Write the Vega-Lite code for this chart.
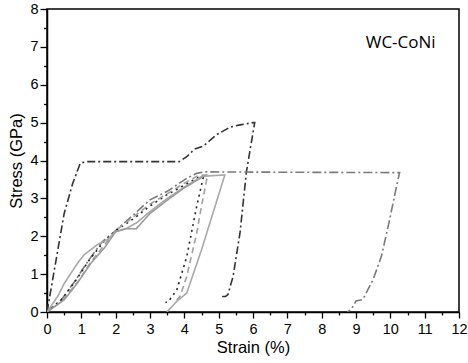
{
  "$schema": "https://vega.github.io/schema/vega-lite/v6.json",
  "autosize": "none",
  "width": 412,
  "height": 303,
  "padding": {"left": 47, "top": 9, "right": 9, "bottom": 51},
  "background": "white",
  "config": {"view": {"stroke": "black", "strokeWidth": 1.5}},
  "datasets": {
    "curves": [
      {"s": "A", "i": 0, "x": 0, "y": 0},
      {"s": "A", "i": 1, "x": 0.25, "y": 1.3},
      {"s": "A", "i": 2, "x": 0.5, "y": 2.6},
      {"s": "A", "i": 3, "x": 0.75, "y": 3.4},
      {"s": "A", "i": 4, "x": 0.97, "y": 3.93},
      {"s": "A", "i": 5, "x": 1.15, "y": 3.97},
      {"s": "A", "i": 6, "x": 2.5, "y": 3.97},
      {"s": "A", "i": 7, "x": 3.85, "y": 3.97},
      {"s": "A", "i": 8, "x": 4.07, "y": 4.1},
      {"s": "A", "i": 9, "x": 4.3, "y": 4.3},
      {"s": "A", "i": 10, "x": 4.55, "y": 4.38},
      {"s": "A", "i": 11, "x": 4.94, "y": 4.68},
      {"s": "A", "i": 12, "x": 5.33, "y": 4.88},
      {"s": "A", "i": 13, "x": 5.62, "y": 4.94},
      {"s": "A", "i": 14, "x": 6.0, "y": 5.0},
      {"s": "A", "i": 15, "x": 6.05, "y": 5.0},
      {"s": "A", "i": 16, "x": 5.81, "y": 3.71},
      {"s": "A", "i": 17, "x": 5.62, "y": 2.08},
      {"s": "A", "i": 18, "x": 5.42, "y": 0.94},
      {"s": "A", "i": 19, "x": 5.27, "y": 0.46},
      {"s": "A", "i": 20, "x": 5.2, "y": 0.41},
      {"s": "A", "i": 21, "x": 5.1, "y": 0.41},
      {"s": "B", "i": 0, "x": 0, "y": 0},
      {"s": "B", "i": 1, "x": 0.4, "y": 0.3},
      {"s": "B", "i": 2, "x": 0.8, "y": 0.8},
      {"s": "B", "i": 3, "x": 1.2, "y": 1.35},
      {"s": "B", "i": 4, "x": 1.6, "y": 1.85},
      {"s": "B", "i": 5, "x": 2.0, "y": 2.15},
      {"s": "B", "i": 6, "x": 2.5, "y": 2.55},
      {"s": "B", "i": 7, "x": 2.8, "y": 2.8},
      {"s": "B", "i": 8, "x": 3.0, "y": 2.96},
      {"s": "B", "i": 9, "x": 3.49, "y": 3.18},
      {"s": "B", "i": 10, "x": 4.07, "y": 3.53},
      {"s": "B", "i": 11, "x": 4.36, "y": 3.66},
      {"s": "B", "i": 12, "x": 4.6, "y": 3.7},
      {"s": "B", "i": 13, "x": 7.0, "y": 3.69},
      {"s": "B", "i": 14, "x": 10.27, "y": 3.68},
      {"s": "B", "i": 15, "x": 10.18, "y": 3.32},
      {"s": "B", "i": 16, "x": 9.98, "y": 2.44},
      {"s": "B", "i": 17, "x": 9.74, "y": 1.47},
      {"s": "B", "i": 18, "x": 9.5, "y": 0.86},
      {"s": "B", "i": 19, "x": 9.2, "y": 0.33},
      {"s": "B", "i": 20, "x": 9.0, "y": 0.29},
      {"s": "B", "i": 21, "x": 8.86, "y": 0.07},
      {"s": "B", "i": 22, "x": 8.75, "y": 0},
      {"s": "C", "i": 0, "x": 0, "y": 0},
      {"s": "C", "i": 1, "x": 0.45, "y": 0.35},
      {"s": "C", "i": 2, "x": 0.85, "y": 0.85},
      {"s": "C", "i": 3, "x": 1.25, "y": 1.4},
      {"s": "C", "i": 4, "x": 1.65, "y": 1.85},
      {"s": "C", "i": 5, "x": 2.0, "y": 2.15},
      {"s": "C", "i": 6, "x": 2.5, "y": 2.45},
      {"s": "C", "i": 7, "x": 3.0, "y": 2.8},
      {"s": "C", "i": 8, "x": 3.5, "y": 3.1},
      {"s": "C", "i": 9, "x": 4.0, "y": 3.35},
      {"s": "C", "i": 10, "x": 4.4, "y": 3.55},
      {"s": "C", "i": 11, "x": 4.55, "y": 3.55},
      {"s": "C", "i": 12, "x": 4.36, "y": 2.79},
      {"s": "C", "i": 13, "x": 4.07, "y": 1.46},
      {"s": "C", "i": 14, "x": 3.78, "y": 0.58},
      {"s": "C", "i": 15, "x": 3.54, "y": 0.28},
      {"s": "C", "i": 16, "x": 3.45, "y": 0.25},
      {"s": "D", "i": 0, "x": 0, "y": 0},
      {"s": "D", "i": 1, "x": 0.45, "y": 0.3},
      {"s": "D", "i": 2, "x": 0.9, "y": 0.8},
      {"s": "D", "i": 3, "x": 1.3, "y": 1.35},
      {"s": "D", "i": 4, "x": 1.7, "y": 1.8},
      {"s": "D", "i": 5, "x": 2.0, "y": 2.15},
      {"s": "D", "i": 6, "x": 2.5, "y": 2.5},
      {"s": "D", "i": 7, "x": 3.0, "y": 2.85},
      {"s": "D", "i": 8, "x": 3.5, "y": 3.12},
      {"s": "D", "i": 9, "x": 4.0, "y": 3.4},
      {"s": "D", "i": 10, "x": 4.4, "y": 3.6},
      {"s": "D", "i": 11, "x": 4.68, "y": 3.62},
      {"s": "D", "i": 12, "x": 4.5, "y": 2.8},
      {"s": "D", "i": 13, "x": 4.36, "y": 2.08},
      {"s": "D", "i": 14, "x": 4.07, "y": 0.94},
      {"s": "D", "i": 15, "x": 3.88, "y": 0.42},
      {"s": "D", "i": 16, "x": 3.72, "y": 0.25},
      {"s": "E", "i": 0, "x": 0, "y": 0},
      {"s": "E", "i": 1, "x": 0.15, "y": 0.2},
      {"s": "E", "i": 2, "x": 0.31, "y": 0.41},
      {"s": "E", "i": 3, "x": 0.5, "y": 0.75},
      {"s": "E", "i": 4, "x": 0.7, "y": 1.03},
      {"s": "E", "i": 5, "x": 0.9, "y": 1.3},
      {"s": "E", "i": 6, "x": 1.08, "y": 1.51},
      {"s": "E", "i": 7, "x": 1.47, "y": 1.78},
      {"s": "E", "i": 8, "x": 1.76, "y": 1.91},
      {"s": "E", "i": 9, "x": 2.0, "y": 2.12},
      {"s": "E", "i": 10, "x": 2.3, "y": 2.2},
      {"s": "E", "i": 11, "x": 2.6, "y": 2.35},
      {"s": "E", "i": 12, "x": 3.0, "y": 2.65},
      {"s": "E", "i": 13, "x": 3.5, "y": 3.0},
      {"s": "E", "i": 14, "x": 4.0, "y": 3.3},
      {"s": "E", "i": 15, "x": 4.5, "y": 3.58},
      {"s": "E", "i": 16, "x": 5.18, "y": 3.62},
      {"s": "E", "i": 17, "x": 4.5, "y": 1.64},
      {"s": "E", "i": 18, "x": 4.07, "y": 0.5},
      {"s": "E", "i": 19, "x": 3.78, "y": 0.28},
      {"s": "E", "i": 20, "x": 3.49, "y": 0.0},
      {"s": "F", "i": 0, "x": 0, "y": 0},
      {"s": "F", "i": 1, "x": 0.5, "y": 0.32},
      {"s": "F", "i": 2, "x": 0.89, "y": 0.77},
      {"s": "F", "i": 3, "x": 1.28, "y": 1.29},
      {"s": "F", "i": 4, "x": 1.67, "y": 1.69},
      {"s": "F", "i": 5, "x": 2.0, "y": 2.12},
      {"s": "F", "i": 6, "x": 2.3, "y": 2.2},
      {"s": "F", "i": 7, "x": 2.6, "y": 2.2},
      {"s": "F", "i": 8, "x": 3.0, "y": 2.6},
      {"s": "F", "i": 9, "x": 3.5, "y": 2.95},
      {"s": "F", "i": 10, "x": 4.0, "y": 3.28},
      {"s": "F", "i": 11, "x": 4.6, "y": 3.6}
    ],
    "label": [{"x": 10.3, "y": 7.1, "t": "WC-CoNi"}]
  },
  "encoding": {
    "x": {
      "field": "x", "type": "quantitative",
      "scale": {"domain": [0, 12], "nice": false, "zero": false},
      "axis": {
        "title": "Strain (%)",
        "values": [0,0.5,1,1.5,2,2.5,3,3.5,4,4.5,5,5.5,6,6.5,7,7.5,8,8.5,9,9.5,10,10.5,11,11.5,12],
        "labelExpr": "datum.value % 1 == 0 ? format(datum.value, 'd') : ''",
        "labelOverlap": false,
        "labelBound": false,
        "tickSize": {"condition": {"test": "datum.value % 1 == 0", "value": 6}, "value": 3},
        "grid": false,
        "domainColor": "black", "domainWidth": 1.5,
        "tickColor": "black", "tickWidth": 1.3,
        "labelColor": "black", "labelFont": "Liberation Sans", "labelFontSize": 14.5,
        "labelFlush": false, "labelPadding": 4,
        "titleFont": "Liberation Sans", "titleFontSize": 16.5, "titleFontWeight": "normal",
        "titleColor": "black", "titlePadding": 4
      }
    },
    "y": {
      "field": "y", "type": "quantitative",
      "scale": {"domain": [0, 8], "nice": false, "zero": false},
      "axis": {
        "title": "Stress (GPa)",
        "values": [0,0.5,1,1.5,2,2.5,3,3.5,4,4.5,5,5.5,6,6.5,7,7.5,8],
        "labelExpr": "datum.value % 1 == 0 ? format(datum.value, 'd') : ''",
        "labelOverlap": false,
        "labelBound": false,
        "tickSize": {"condition": {"test": "datum.value % 1 == 0", "value": 7}, "value": 3.5},
        "grid": false,
        "domainColor": "black", "domainWidth": 1.5,
        "tickColor": "black", "tickWidth": 1.3,
        "labelColor": "black", "labelFont": "Liberation Sans", "labelFontSize": 14.5,
        "labelFlush": false, "labelPadding": 2,
        "titleFont": "Liberation Sans", "titleFontSize": 16.5, "titleFontWeight": "normal",
        "titleColor": "black", "titlePadding": 5
      }
    }
  },
  "layer": [
    {
      "data": {"name": "curves"},
      "mark": {"type": "line", "strokeWidth": 1.6, "clip": true},
      "encoding": {
        "order": {"field": "i", "type": "quantitative"},
        "color": {
          "field": "s", "type": "nominal", "legend": null,
          "scale": {"domain": ["A","B","C","D","E","F"], "range": ["#333333","#7a7a7a","#222222","#a0a0a0","#a8a8a8","#9a9a9a"]}
        },
        "strokeDash": {
          "field": "s", "type": "nominal", "legend": null,
          "scale": {"domain": ["A","B","C","D","E","F"], "range": [[8,3,2,3],[9,3,2,3],[2,4],[6,4],[1,0],[1,0]]}
        }
      }
    },
    {
      "data": {"name": "label"},
      "mark": {"type": "text", "font": "Open Sans", "fontSize": 17, "color": "black", "align": "center", "baseline": "middle"},
      "encoding": {
        "text": {"field": "t"}
      }
    }
  ]
}
